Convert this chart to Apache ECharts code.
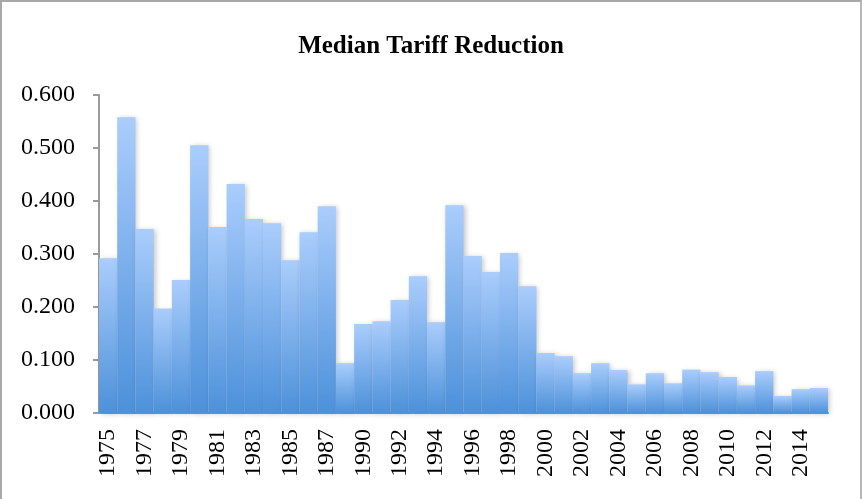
<!DOCTYPE html>
<html>
<head>
<meta charset="utf-8">
<script src="https://cdn.jsdelivr.net/npm/echarts@6/dist/echarts.min.js"></script>
<style>
  html, body { margin: 0; padding: 0; background: #fff; }
  #chart { width: 862px; height: 499px; box-sizing: border-box; border-top: 2px solid #a8a8a8; border-left: 2px solid #a8a8a8; border-right: 2px solid #b8b8b8; }
</style>
</head>
<body>
<div id="chart"></div>
<script>
// Years with a recorded median tariff reduction (1989 has no observation)
const years = [
  '1975','1976','1977','1978','1979','1980','1981','1982','1983','1984',
  '1985','1986','1987','1988','1990','1991','1992','1993','1994','1995',
  '1996','1997','1998','1999','2000','2001','2002','2003','2004','2005',
  '2006','2007','2008','2009','2010','2011','2012','2013','2014','2015'
];
const medianReduction = [
  0.292, 0.558, 0.347, 0.197, 0.251, 0.505, 0.351, 0.432, 0.366, 0.358,
  0.288, 0.341, 0.390, 0.094, 0.168, 0.173, 0.213, 0.258, 0.171, 0.392,
  0.296, 0.266, 0.302, 0.239, 0.113, 0.107, 0.075, 0.094, 0.081, 0.054,
  0.075, 0.056, 0.082, 0.077, 0.068, 0.052, 0.079, 0.032, 0.045, 0.047
];
const yTicks = { min: 0, max: 0.6, step: 0.1 };

const chart = echarts.init(document.getElementById('chart'));
const serif = '"Liberation Serif", "DejaVu Serif", serif';

chart.setOption({
  animation: false,
  title: {
    text: 'Median Tariff Reduction',
    left: 'center',
    top: 27,
    textStyle: { fontFamily: serif, fontSize: 25, fontWeight: 'bold', color: '#000' }
  },
  grid: { left: 97, right: 32, top: 93, bottom: 86 },
  xAxis: {
    type: 'category',
    data: years,
    boundaryGap: true,
    axisLine: { lineStyle: { color: '#9a9a9a', width: 2 } },
    axisTick: { show: false },
    axisLabel: {
      interval: 1,
      rotate: 90,
      margin: 16,
      fontFamily: serif,
      fontSize: 24,
      color: '#000'
    }
  },
  yAxis: {
    type: 'value',
    min: yTicks.min,
    max: yTicks.max,
    interval: yTicks.step,
    splitLine: { show: false },
    axisLine: { show: true, lineStyle: { color: '#9a9a9a', width: 2 } },
    axisTick: { show: true, length: 6, lineStyle: { color: '#9a9a9a', width: 2 } },
    axisLabel: {
      margin: 24,
      fontFamily: serif,
      fontSize: 24,
      color: '#000',
      formatter: v => v.toFixed(3)
    }
  },
  series: [{
    type: 'bar',
    data: medianReduction,
    barCategoryGap: '0%',
    itemStyle: {
      color: new echarts.graphic.LinearGradient(0, 0, 0, 1, [
        { offset: 0, color: '#aacdfc' },
        { offset: 1, color: '#4c91da' }
      ]),
      shadowColor: 'rgba(0,0,0,0.22)',
      shadowBlur: 5,
      shadowOffsetX: 2,
      shadowOffsetY: 1
    }
  }]
});
</script>
</body>
</html>
